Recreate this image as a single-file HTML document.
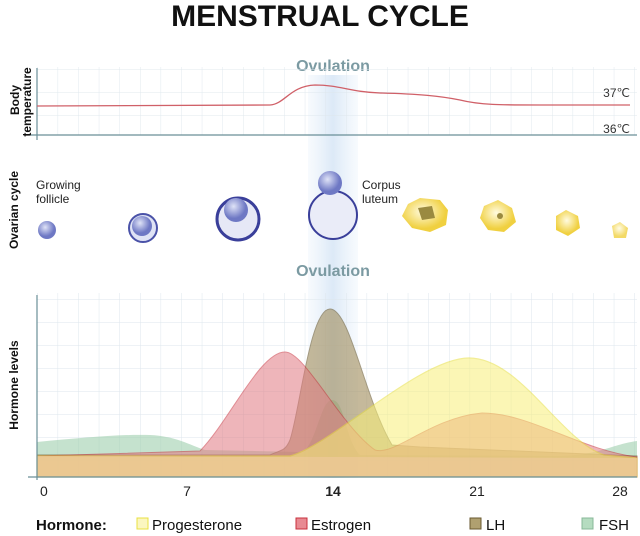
<!DOCTYPE html><html><head><style>body{margin:0;background:#fff}svg{display:block}</style></head><body>
<svg width="640" height="536" viewBox="0 0 640 536" xmlns="http://www.w3.org/2000/svg" font-family="Liberation Sans, sans-serif">
<defs>
<linearGradient id="ov" x1="0" x2="1"><stop offset="0" stop-color="#e6f0fa" stop-opacity=".3"/><stop offset=".5" stop-color="#dce9f7"/><stop offset="1" stop-color="#e6f0fa" stop-opacity=".3"/></linearGradient>
<radialGradient id="bf" cx=".4" cy=".35"><stop offset="0" stop-color="#dfe3f7"/><stop offset="1" stop-color="#6e78c4"/></radialGradient>
<radialGradient id="yf" cx=".45" cy=".4"><stop offset="0" stop-color="#fffbe0"/><stop offset="1" stop-color="#f0d040"/></radialGradient>
<pattern id="g" x="37" y="0" width="20.6" height="23" patternUnits="userSpaceOnUse"><path d="M0 0V23M0 0H20.6" stroke="#dde6ec" stroke-width="1" fill="none"/></pattern>
</defs>
<text x="320" y="26" text-anchor="middle" font-size="30" font-weight="bold" fill="#111">MENSTRUAL CYCLE</text>
<rect x="308" y="75" width="50" height="403" fill="url(#ov)"/>
<text x="333" y="71" text-anchor="middle" font-size="16" font-weight="bold" fill="#7b9aa2">Ovulation</text>
<text x="333" y="276" text-anchor="middle" font-size="16" font-weight="bold" fill="#7b9aa2">Ovulation</text>
<!-- top chart -->
<rect x="37" y="67" width="600" height="68" fill="url(#g)" opacity=".9"/>
<line x1="37" y1="68" x2="37" y2="140" stroke="#6a8f98" stroke-width="1.2"/>
<line x1="30" y1="135" x2="637" y2="135" stroke="#6a8f98" stroke-width="1.2"/>
<path d="M37 106 L270 105 C285 104 290 86 315 85 C340 85 350 92 380 93 C420 94 440 96 460 100 C480 105 500 105 540 105 L630 105" stroke="#d06068" stroke-width="1.3" fill="none"/>
<text x="630" y="97" text-anchor="end" font-size="12" fill="#333">37℃</text>
<text x="630" y="133" text-anchor="end" font-size="12" fill="#333">36℃</text>
<text transform="translate(19,100) rotate(-90)" text-anchor="middle" font-size="12" font-weight="bold" fill="#111">Body</text>
<text transform="translate(31,102) rotate(-90)" text-anchor="middle" font-size="12" font-weight="bold" fill="#111">temperature</text>
<!-- ovarian -->
<text transform="translate(18,210) rotate(-90)" text-anchor="middle" font-size="12" font-weight="bold" fill="#111">Ovarian cycle</text>
<text x="36" y="189" font-size="12" fill="#222">Growing</text><text x="36" y="203" font-size="12" fill="#222">follicle</text>
<text x="362" y="189" font-size="12" fill="#222">Corpus</text><text x="362" y="203" font-size="12" fill="#222">luteum</text>
<circle cx="47" cy="230" r="9" fill="url(#bf)"/>
<circle cx="143" cy="228" r="14" fill="#dfe3f5" stroke="#4a52a8" stroke-width="2"/><circle cx="142" cy="226" r="10" fill="url(#bf)"/>
<circle cx="238" cy="219" r="21" fill="#e6e8f6" stroke="#3a3f9a" stroke-width="3"/><circle cx="236" cy="210" r="12" fill="url(#bf)"/>
<circle cx="333" cy="215" r="24" fill="#eaecf8" stroke="#3a3f9a" stroke-width="2"/><circle cx="330" cy="183" r="12" fill="url(#bf)"/>
<path d="M408 204 L420 198 L440 200 L448 210 L446 225 L430 232 L412 228 L402 216Z" fill="url(#yf)"/><path d="M418 208 L432 206 L435 218 L422 220Z" fill="#9a8a40"/>
<path d="M484 206 L498 200 L512 208 L516 222 L504 232 L488 230 L480 218Z" fill="url(#yf)"/><circle cx="500" cy="216" r="3" fill="#9a8a40"/>
<path d="M556 216 L566 210 L578 216 L580 228 L568 236 L556 230Z" fill="url(#yf)"/>
<path d="M612 226 L620 222 L628 228 L626 238 L614 238Z" fill="url(#yf)" opacity=".8"/>
<!-- hormone chart -->
<rect x="37" y="293" width="600" height="184" fill="url(#g)"/>
<text transform="translate(18,385) rotate(-90)" text-anchor="middle" font-size="12" font-weight="bold" fill="#111">Hormone levels</text>
<path d="M37 442 C80 438 120 434 150 435 C175 436 190 445 205 450 L300 452 C315 452 320 400 332 400 C345 400 345 440 360 455 L560 456 C600 455 610 445 637 441 L637 477 L37 477Z" fill="#9fcfae" opacity=".6"/>
<path d="M37 455 L270 455 C280 450 285 452 290 440 C300 410 310 309 330 309 C350 309 365 400 392 445 L420 447 L637 456 L637 477 L37 477Z" fill="#a08c5a" opacity=".6" stroke="#6a5a30" stroke-width="1"/>
<path d="M37 456 L200 451 C230 420 260 352 285 352 C305 352 340 425 375 450 C395 456 430 418 482 413 C530 413 580 450 637 457 L637 477 L37 477Z" fill="#e17a82" opacity=".55" stroke="#c8303c" stroke-width="1"/>
<path d="M37 456 L290 456 C330 446 420 358 469 358 C520 358 560 440 604 455 L637 458 L637 477 L37 477Z" fill="#f8f07a" opacity=".55" stroke="#e8e040" stroke-width="1.2"/>
<path d="M37 456 L637 458 L637 477 L37 477Z" fill="#eec99a" opacity=".7"/>
<line x1="37" y1="295" x2="37" y2="480" stroke="#6a8f98" stroke-width="1.2"/>
<line x1="28" y1="477" x2="637" y2="477" stroke="#6a8f98" stroke-width="1.2"/>
<g font-size="14" fill="#222"><text x="40" y="496">0</text><text x="187" y="496" text-anchor="middle">7</text><text x="333" y="496" text-anchor="middle" font-weight="bold">14</text><text x="477" y="496" text-anchor="middle">21</text><text x="620" y="496" text-anchor="middle">28</text></g>
<g font-size="15" fill="#111"><text x="36" y="530" font-weight="bold">Hormone:</text>
<rect x="137" y="518" width="11" height="11" fill="#fbf6c0" stroke="#e8e040"/><text x="152" y="530">Progesterone</text>
<rect x="296" y="518" width="11" height="11" fill="#e88a92" stroke="#c8303c"/><text x="311" y="530">Estrogen</text>
<rect x="470" y="518" width="11" height="11" fill="#b0a070" stroke="#6a5a30"/><text x="486" y="530">LH</text>
<rect x="582" y="518" width="11" height="11" fill="#b5dcc0" stroke="#88b898"/><text x="599" y="530">FSH</text></g>
</svg></body></html>
